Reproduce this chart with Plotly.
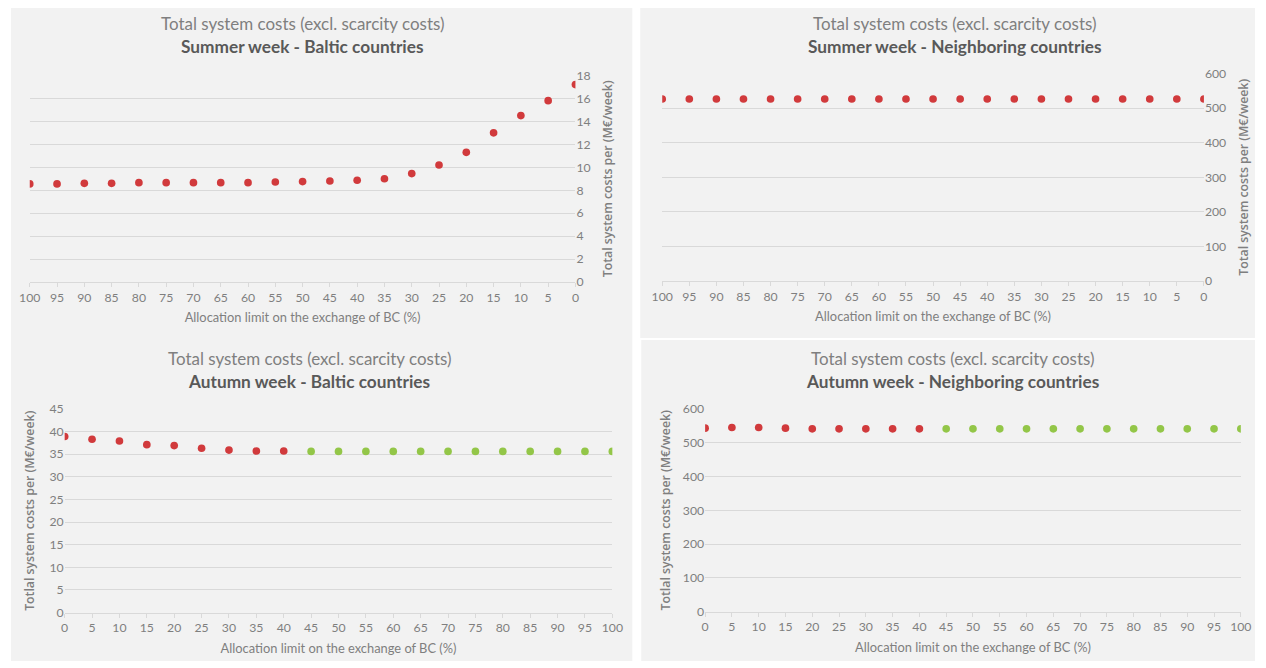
import plotly.graph_objects as go

W, H = 1266, 668
# the rendered screenshot shows page coordinates as  A + S * page ;
# target positions are converted with this mapping
AX, SX = 9.2, 0.985
AY, SY = 6.5, 0.979

# ---- data ----
x_limits = [0, 5, 10, 15, 20, 25, 30, 35, 40, 45, 50, 55, 60, 65, 70, 75, 80, 85, 90, 95, 100]

summer_baltic = [17.2, 15.8, 14.5, 13.0, 11.3, 10.2, 9.45, 9.0, 8.87, 8.8, 8.75, 8.72,
                 8.66, 8.66, 8.66, 8.66, 8.66, 8.6, 8.6, 8.55, 8.55]
summer_neigh = [526] * 21

autumn_baltic = [38.9, 38.3, 37.9, 37.1, 36.9, 36.3, 35.9, 35.7, 35.7,
                 35.6, 35.6, 35.6, 35.6, 35.6, 35.6, 35.6, 35.6, 35.6, 35.6, 35.6, 35.6]
autumn_neigh = [543, 545, 545, 543, 541, 541, 541, 541, 541,
                541, 541, 541, 541, 541, 541, 541, 541, 541, 541, 541, 541]
autumn_split = 9  # first 9 points red, rest green

title_line1 = "Total system costs (excl. scarcity costs)"
titles = ["Summer week - Baltic countries", "Summer week - Neighboring countries",
          "Autumn week - Baltic countries", "Autumn week - Neighboring countries"]
x_title = "Allocation limit on the exchange of BC (%)"
y_title_summer = "Total system costs per (M€/week)"
y_title_autumn = "Totlal system costs per (M€/week)"

RED = "#d13a3c"
GREEN = "#93c648"
TXT = "#7f7f7f"
DARK = "#595959"
GRID = "#d9d9d9"
PANEL = "#f2f2f2"
FONT = "Lato"

def px(x):
    return min(1, max(0, (x - AX) / SX / W))

def py(y):
    return min(1, max(0, 1 - (y - AY) / SY / H))

def fs(v):
    return v / SY

fig = go.Figure()

def add(xs, ys, color, xa, ya):
    fig.add_trace(go.Scatter(x=xs, y=ys, mode="markers", xaxis=xa, yaxis=ya,
                             marker=dict(color=color, size=fs(7.5)), showlegend=False,
                             hoverinfo="x+y"))

add(x_limits, summer_baltic, RED, "x", "y")
add(x_limits, summer_neigh, RED, "x2", "y2")
add(x_limits[:autumn_split], autumn_baltic[:autumn_split], RED, "x3", "y3")
add(x_limits[autumn_split:], autumn_baltic[autumn_split:], GREEN, "x3", "y3")
add(x_limits[:autumn_split], autumn_neigh[:autumn_split], RED, "x4", "y4")
add(x_limits[autumn_split:], autumn_neigh[autumn_split:], GREEN, "x4", "y4")

tickfont = dict(family=FONT, size=fs(12), color=TXT)
titlefont = dict(family=FONT, size=fs(12.6), color=TXT)
ytitlefont = dict(family="Open Sans", size=fs(12), color=TXT, weight=600)

def xaxis(domain, anchor, reverse):
    return dict(domain=domain, anchor=anchor, range=[100, 0] if reverse else [0, 100],
                tickmode="array", tickvals=x_limits, ticktext=[str(v) for v in x_limits],
                showgrid=False, zeroline=False, showline=True, linecolor=GRID,
                ticks="outside", ticklen=4, tickcolor=GRID, tickfont=tickfont,
                title=dict(text=x_title, font=titlefont, standoff=9), fixedrange=True)

def yaxis(domain, anchor, rng, dtick, side, ytitle, standoff):
    return dict(domain=domain, anchor=anchor, range=rng, dtick=dtick, side=side,
                showgrid=True, gridcolor=GRID, gridwidth=1, zeroline=False,
                showline=False, ticks="", tickfont=tickfont,
                title=dict(text=ytitle, font=ytitlefont, standoff=standoff),
                fixedrange=True)

fig.update_layout(
    width=W, height=H, margin=dict(l=0, r=0, t=0, b=0),
    paper_bgcolor="white", plot_bgcolor="rgba(0,0,0,0)",
    xaxis=xaxis([px(28), px(575)], "y", True),
    yaxis=yaxis([py(281), py(74)], "x", [0, 18], 2, "right", y_title_summer, 13),
    xaxis2=xaxis([px(662), px(1205)], "y2", True),
    yaxis2=yaxis([py(280), py(72)], "x2", [0, 600], 100, "right", y_title_summer, 14),
    xaxis3=xaxis([px(63), px(612)], "y3", False),
    yaxis3=yaxis([py(612), py(408)], "x3", [0, 45], 5, "left", y_title_autumn, 12),
    xaxis4=xaxis([px(705), px(1242)], "y4", False),
    yaxis4=yaxis([py(611), py(408)], "x4", [0, 600], 100, "left", y_title_autumn, 9),
)

panels = [(5, 5, 632, 668), (640, 0, 1266, 337), (641, 339, 1266, 668)]
for x0, y0, x1, y1 in panels:
    fig.add_shape(type="rect", xref="paper", yref="paper",
                  x0=px(x0), x1=px(x1), y0=py(y1), y1=py(y0),
                  fillcolor=PANEL, line=dict(width=0), layer="below")

title_pos = [(301, 22, 45), (955, 22, 45), (308, 358, 381), (953, 358, 381)]
for (cx, y1, y2), t in zip(title_pos, titles):
    fig.add_annotation(xref="paper", yref="paper", x=px(cx), y=py(y1), text=title_line1,
                       showarrow=False, font=dict(family=FONT, size=fs(16.6), color=TXT),
                       xanchor="center", yanchor="middle")
    fig.add_annotation(xref="paper", yref="paper", x=px(cx), y=py(y2), text="<b>" + t + "</b>",
                       showarrow=False, font=dict(family=FONT, size=fs(16.9), color=DARK),
                       xanchor="center", yanchor="middle")

fig.write_html("out.html", config={"displayModeBar": False},
               post_script="document.body.style.margin='0';document.body.style.overflow='hidden';")
